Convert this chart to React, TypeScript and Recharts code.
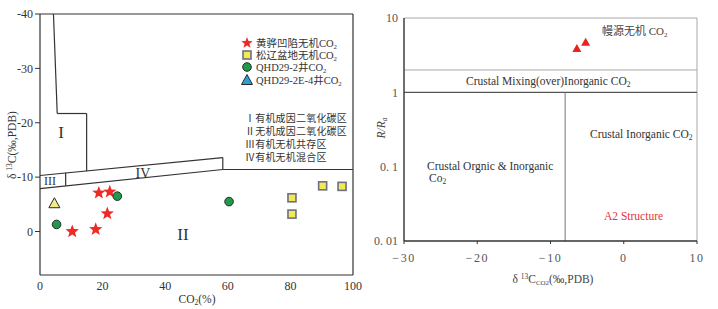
import React from 'react';
import {
  ReferenceDot,
  ReferenceLine,
  Scatter,
  ScatterChart,
  XAxis,
  YAxis,
} from 'recharts';

// Left panel: δ13C vs CO2 content
const huanghuaStars = [
  { x: 10.3, y: 0.0 },
  { x: 17.8, y: -0.4 },
  { x: 21.5, y: -3.3 },
  { x: 18.8, y: -7.1 },
  { x: 22.3, y: -7.3 },
];
const songliaoSquares = [
  { x: 80.5, y: -6.2 },
  { x: 80.5, y: -3.2 },
  { x: 90.3, y: -8.4 },
  { x: 96.5, y: -8.3 },
];
const qhd292Circles = [
  { x: 5.3, y: -1.3 },
  { x: 24.7, y: -6.5 },
  { x: 60.4, y: -5.5 },
];
const qhd292e4Triangles = [{ x: 4.6, y: -5.2 }];

const leftXTicks = [0, 20, 40, 60, 80, 100];
const leftYTicks = [-40, -30, -20, -10, 0];

// zone boundaries (CO2 %, δ13C)
const zoneSegments = [
  [{ x: 4.3, y: -40 }, { x: 5.5, y: -21.7 }],
  [{ x: 5.5, y: -21.7 }, { x: 14.9, y: -21.7 }],
  [{ x: 14.9, y: -21.7 }, { x: 14.9, y: -11.1 }],
  [{ x: 0, y: -7.9 }, { x: 58.4, y: -11.4 }],
  [{ x: 58.4, y: -11.4 }, { x: 100, y: -11.4 }],
  [{ x: 0, y: -10.3 }, { x: 58.4, y: -13.6 }],
  [{ x: 58.4, y: -13.6 }, { x: 58.4, y: -11.4 }],
  [{ x: 8.2, y: -8.4 }, { x: 8.2, y: -10.8 }],
  [{ x: 0, y: -40 }, { x: 100, y: -40 }],
  [{ x: 100, y: -40 }, { x: 100, y: 8 }],
];

// Right panel: R/Ra vs δ13C(CO2)
const a2Triangles = [
  { x: -6.4, y: 3.9 },
  { x: -5.2, y: 4.7 },
];
const rightXTicks = [-30, -20, -10, 0, 10];
const rightYTicks = [0.01, 0.1, 1, 10];
const rightYTickLabels = ['0. 01', '0. 1', '1', '10'];

const SERIF = '"Liberation Serif", "Noto Sans CJK SC", serif';
const INK = '#333';

function StarMark({ cx, cy, r = 7 }: any) {
  const pts: string[] = [];
  for (let i = 0; i < 10; i++) {
    const rad = i % 2 === 0 ? r : r * 0.42;
    const a = -Math.PI / 2 + (i * Math.PI) / 5;
    pts.push(`${cx + rad * Math.cos(a)},${cy + rad * Math.sin(a)}`);
  }
  return <polygon points={pts.join(' ')} fill="#ee2a24" />;
}

function SquareMark({ cx, cy }: any) {
  return <rect x={cx - 4} y={cy - 4} width={8} height={8} fill="#f0ea55" stroke="#6f6f80" strokeWidth={1.6} />;
}

function CircleMark({ cx, cy }: any) {
  return <circle cx={cx} cy={cy} r={4.3} fill="#1e9a4a" stroke="#2a2a2a" strokeWidth={1} />;
}

function TriangleMark({ cx, cy, fill = '#f3ec8a' }: any) {
  return (
    <polygon
      points={`${cx},${cy - 5.5} ${cx - 5.5},${cy + 4.5} ${cx + 5.5},${cy + 4.5}`}
      fill={fill}
      stroke="#2a2a2a"
      strokeWidth={1}
    />
  );
}

function RedTriangle({ cx, cy }: any) {
  return <polygon points={`${cx},${cy - 4.5} ${cx - 4.5},${cy + 3.5} ${cx + 4.5},${cy + 3.5}`} fill="#e8231c" />;
}

function Sub({ children }: any) {
  return (
    <tspan fontSize="0.65em" dy={2}>
      {children}
    </tspan>
  );
}

function LeftChart() {
  const legendRows = [
    { y: 43, mark: <StarMark cx={247} cy={43} r={6} />, label: '黄骅凹陷无机CO' },
    { y: 55, mark: <SquareMark cx={247} cy={55} />, label: '松辽盆地无机CO' },
    { y: 67, mark: <CircleMark cx={247} cy={67} />, label: 'QHD29-2井CO' },
    { y: 80, mark: <TriangleMark cx={247} cy={80} fill="#2e9fd6" />, label: 'QHD29-2E-4井CO' },
  ];
  const zoneText = ['Ⅰ有机成因二氧化碳区', 'Ⅱ无机成因二氧化碳区', 'Ⅲ有机无机共存区', 'Ⅳ有机无机混合区'];
  const zoneY = [118, 131, 144, 157];
  return (
    <ScatterChart width={360} height={309} margin={{ top: 14, right: 7, bottom: 14, left: 0 }}>
      <XAxis
        type="number"
        dataKey="x"
        domain={[0, 100]}
        ticks={leftXTicks}
        height={20}
        tick={false}
        tickLine={false}
        axisLine={{ stroke: INK, strokeWidth: 1.2 }}
      />
      <YAxis
        type="number"
        dataKey="y"
        domain={[-40, 8]}
        reversed
        ticks={leftYTicks}
        interval={0}
        allowDataOverflow
        width={40}
        tickSize={5}
        tickLine={{ stroke: INK }}
        axisLine={{ stroke: INK, strokeWidth: 1.2 }}
        tick={{ fill: INK, fontSize: 12, fontFamily: SERIF }}
      />
      {zoneSegments.map((seg, i) => (
        <ReferenceLine key={`zone-${i}`} segment={seg} stroke={INK} strokeWidth={1.2} ifOverflow="visible" />
      ))}
      {leftXTicks.map((v) => (
        <ReferenceDot
          key={`xt-${v}`}
          x={v}
          y={8}
          r={0.01}
          fill="none"
          stroke="none"
          ifOverflow="visible"
          label={{ value: String(v), position: 'bottom', offset: 6, fill: INK, fontSize: 12, fontFamily: SERIF }}
        />
      ))}
      <Scatter data={huanghuaStars} shape={(p: any) => <StarMark cx={p.cx} cy={p.cy} />} isAnimationActive={false} />
      <Scatter data={songliaoSquares} shape={(p: any) => <SquareMark cx={p.cx} cy={p.cy} />} isAnimationActive={false} />
      <Scatter data={qhd292Circles} shape={(p: any) => <CircleMark cx={p.cx} cy={p.cy} />} isAnimationActive={false} />
      <Scatter data={qhd292e4Triangles} shape={(p: any) => <TriangleMark cx={p.cx} cy={p.cy} />} isAnimationActive={false} />

      <g fontFamily={SERIF} fill={INK}>
        {legendRows.map((row) => (
          <g key={row.label}>
            {row.mark}
            <text x={256} y={row.y} dy="0.35em" fontSize={10.5} fill={INK}>
              {row.label}
              <Sub>2</Sub>
            </text>
          </g>
        ))}
        {zoneText.map((t, i) => (
          <text key={t} x={245} y={zoneY[i]} dy="0.35em" fontSize={10} letterSpacing={0.2} fill={INK}>
            {t}
          </text>
        ))}
        <text x={61} y={132} dy="0.35em" textAnchor="middle" fontSize={17} fill={INK}>I</text>
        <text x={183} y={234} dy="0.35em" textAnchor="middle" fontSize={17} fill={INK}>II</text>
        <text x={50} y={181} dy="0.35em" textAnchor="middle" fontSize={12} fill={INK}>III</text>
        <text x={143} y={173} dy="0.35em" textAnchor="middle" fontSize={14} fill={INK}>IV</text>
        <text x={197} y={299} dy="0.35em" textAnchor="middle" fontSize={11.5} fill={INK}>
          CO<Sub>2</Sub>
          <tspan dy={-2}>(%)</tspan>
        </text>
        <text transform="translate(12,145) rotate(-90)" textAnchor="middle" dy="0.35em" fontSize={11.5} fill={INK}>
          δ <tspan fontSize="0.65em" dy={-4}>13</tspan>
          <tspan dy={4}>C(‰,PDB)</tspan>
        </text>
      </g>
    </ScatterChart>
  );
}

function RightChart() {
  const GREY = '#a9a9a9';
  return (
    <ScatterChart width={358} height={309} margin={{ top: 18, right: 21, bottom: 48, left: 0 }}>
      <XAxis
        type="number"
        dataKey="x"
        domain={[-30, 10]}
        ticks={rightXTicks}
        interval={0}
        allowDataOverflow
        height={20}
        tickSize={3}
        tickLine={{ stroke: INK }}
        axisLine={{ stroke: INK, strokeWidth: 1.4 }}
        tick={{ fill: '#555', fontSize: 12, fontFamily: SERIF, letterSpacing: 1.5 }}
        tickFormatter={(v: number) => (v < 0 ? `−${Math.abs(v)}` : `${v}`)}
        tickMargin={9}
      />
      <YAxis
        type="number"
        dataKey="y"
        scale="log"
        domain={[0.01, 10]}
        ticks={rightYTicks}
        interval={0}
        allowDataOverflow
        width={44}
        tickSize={0}
        tickLine={false}
        axisLine={{ stroke: INK, strokeWidth: 1.4 }}
        tick={{ fill: '#555', fontSize: 12, fontFamily: SERIF }}
        tickFormatter={(v: number) => rightYTickLabels[rightYTicks.indexOf(v)] ?? String(v)}
        tickMargin={6}
      />
      <ReferenceLine y={10} stroke={GREY} ifOverflow="visible" />
      <ReferenceLine x={10} stroke={GREY} ifOverflow="visible" />
      <ReferenceLine y={2} stroke={GREY} ifOverflow="visible" />
      <ReferenceLine y={1} stroke="#555" strokeWidth={1.2} ifOverflow="visible" />
      <ReferenceLine segment={[{ x: -8, y: 0.01 }, { x: -8, y: 1 }]} stroke="#777" ifOverflow="visible" />
      <Scatter data={a2Triangles} shape={(p: any) => <RedTriangle cx={p.cx} cy={p.cy} />} isAnimationActive={false} />

      <g fontFamily={SERIF} fill={INK}>
        <text x={242} y={31} dy="0.35em" fontSize={11} fill="#444">
          幔源无机 CO<Sub>2</Sub>
        </text>
        <text x={106} y={81} dy="0.35em" fontSize={11.5} fill={INK}>
          Crustal Mixing(over)Inorganic CO<Sub>2</Sub>
        </text>
        <text x={230} y={134} dy="0.35em" fontSize={11.5} fill={INK}>
          Crustal Inorganic CO<Sub>2</Sub>
        </text>
        <text x={67} y={166} dy="0.35em" fontSize={11.5} fill={INK}>
          Crustal Orgnic &amp; Inorganic
        </text>
        <text x={69} y={178} dy="0.35em" fontSize={11.5} fill={INK}>
          Co<Sub>2</Sub>
        </text>
        <text x={244} y={216} dy="0.35em" fontSize={11.5} fill="#e8323a">
          A2 Structure
        </text>
        <text x={193} y={279} dy="0.35em" textAnchor="middle" fontSize={11.5} fill="#444">
          δ <tspan fontSize="0.65em" dy={-4}>13</tspan>
          <tspan dy={4}>C</tspan>
          <tspan fontSize="0.6em" dy={2}>CO2</tspan>
          <tspan dy={-2}>(‰,PDB)</tspan>
        </text>
        <text transform="translate(21,128) rotate(-90)" textAnchor="middle" dy="0.35em" fontSize={11.5} fontStyle="italic" fill="#444">
          R/R<Sub>a</Sub>
        </text>
      </g>
    </ScatterChart>
  );
}

export default function App() {
  return (
    <div style={{ position: 'absolute', left: 0, top: 0, width: 718, height: 309, background: '#fff' }}>
      <style>{'svg.recharts-surface { overflow: visible; }'}</style>
      <div style={{ position: 'absolute', left: 0, top: 0 }}>
        <LeftChart />
      </div>
      <div style={{ position: 'absolute', left: 360, top: 0 }}>
        <RightChart />
      </div>
    </div>
  );
}
